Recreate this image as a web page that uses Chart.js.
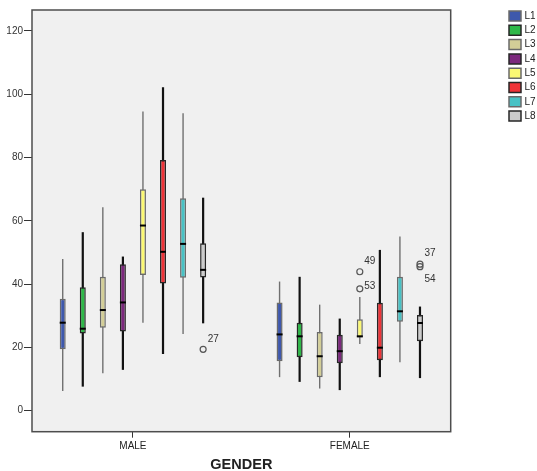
<!DOCTYPE html>
<html>
<head>
<meta charset="utf-8">
<script src="https://cdn.jsdelivr.net/npm/chart.js@4.4.1/dist/chart.umd.min.js"></script>
<style>
html,body{margin:0;padding:0;background:#fff}
#wrap{width:537px;height:471px;position:relative}
</style>
</head>
<body>
<div id="wrap"><canvas id="chart"></canvas></div>
<script>
// categories / series
const groups=['MALE','FEMALE'];
const series=['L1','L2','L3','L4','L5','L6','L7','L8'];

// box plot summaries, one pair per series: [MALE, FEMALE]
const whiskerLow =[[6.2,10.6],[7.6,9.1],[11.8,7.0],[12.9,6.5],[27.8,21.1],[17.9,10.6],[24.2,15.3],[27.6,10.3]];
const quart1     =[[19.4,15.6],[24.4,16.9],[26.2,10.6],[25.0,15.0],[42.9,23.1],[40.2,15.9],[42.0,28.1],[42.1,21.9]];
const medians    =[[27.8,24.1],[25.9,23.5],[31.8,17.2],[34.2,18.8],[58.5,23.5],[50.2,19.9],[52.7,31.4],[44.5,27.7]];
const quart3     =[[35.4,34.2],[39.0,27.8],[42.3,24.9],[46.3,24.0],[70.0,28.9],[79.2,34.1],[67.1,42.3],[52.9,30.2]];
const whiskerHigh=[[47.9,40.8],[56.4,42.3],[64.3,33.5],[48.7,29.1],[94.5,35.9],[102.2,50.8],[94.0,55.0],[67.3,32.9]];

// outliers (series index, group index, value, case number)
const outlierSeries=[7,4,4,7,7];
const outlierGroup =[0,1,1,1,1];
const outlierValue =[19.4,43.9,38.5,46.3,45.5];
const outlierCase  =['27','49','53','37','54'];

const yTicks=[0,20,40,60,80,100,120];

const fills=['#3e58ac','#2eb848','#d3ce97','#7c287d','#fbf873','#ef3338','#48c2c5','#cccccc'];
const FONT='Arial, "Liberation Sans", sans-serif';
Chart.defaults.font.family=FONT;

// whiskers, medians, outliers and the frame
const boxPlot={
  id:'boxPlot',
  beforeDraw(chart){
    const {ctx,chartArea:a}=chart;
    ctx.save();
    ctx.fillStyle='#f0f0f0';
    ctx.fillRect(a.left,a.top,a.right-a.left,a.bottom-a.top);
    ctx.restore();
  },
  beforeDatasetsDraw(chart){
    const {ctx}=chart,y=chart.scales.y;
    ctx.save();
    chart.data.datasets.forEach((ds,i)=>{
      chart.getDatasetMeta(i).data.forEach((bar,j)=>{
        ctx.strokeStyle=i%2?'#111':'#707070';
        ctx.lineWidth=i%2?2.2:1.4;
        ctx.beginPath();
        ctx.moveTo(bar.x,y.getPixelForValue(whiskerLow[i][j]));
        ctx.lineTo(bar.x,y.getPixelForValue(whiskerHigh[i][j]));
        ctx.stroke();
      });
    });
    ctx.restore();
  },
  afterDatasetsDraw(chart){
    const {ctx,chartArea:a}=chart,y=chart.scales.y;
    ctx.save();
    // medians
    ctx.strokeStyle='#000';ctx.lineWidth=2;
    chart.data.datasets.forEach((ds,i)=>{
      chart.getDatasetMeta(i).data.forEach((bar,j)=>{
        const py=y.getPixelForValue(medians[i][j]);
        ctx.beginPath();
        ctx.moveTo(bar.x-bar.width/2,py);
        ctx.lineTo(bar.x+bar.width/2,py);
        ctx.stroke();
      });
    });
    // outliers
    ctx.font='10px '+FONT;ctx.textAlign='left';ctx.textBaseline='middle';
    let prevKey=null,prevLabelY=0;
    outlierValue.forEach((v,k)=>{
      const bar=chart.getDatasetMeta(outlierSeries[k]).data[outlierGroup[k]];
      const cx=bar.x,cy=y.getPixelForValue(v);
      ctx.strokeStyle='#555';ctx.lineWidth=1.2;
      ctx.beginPath();ctx.arc(cx,cy,3,0,Math.PI*2);ctx.stroke();
      const key=outlierSeries[k]+'-'+outlierGroup[k];
      let ly=cy-10.5;
      if(key===prevKey)ly=Math.max(ly,prevLabelY+25.5);
      ctx.fillStyle='#333';
      ctx.fillText(outlierCase[k],cx+4.5,ly);
      prevKey=key;prevLabelY=ly;
    });
    // frame
    ctx.strokeStyle='#4d4d4d';ctx.lineWidth=1.5;
    ctx.strokeRect(a.left,a.top,a.right-a.left,a.bottom-a.top);
    ctx.restore();
  }
};

new Chart(document.getElementById('chart'),{
  type:'bar',
  data:{
    datasets:series.map((name,i)=>({
      label:name,
      data:groups.map((g,j)=>({x:j,y:[quart1[i][j],quart3[i][j]]})),
      backgroundColor:fills[i],
      borderColor:i%2?'#262626':'#6a6a6a',
      borderWidth:1.5,
      borderSkipped:false,
      categoryPercentage:0.74,
      barPercentage:0.3,
      xAxisID:'x',yAxisID:'y'
    }))
  },
  options:{
    responsive:true,maintainAspectRatio:false,animation:false,events:[],
    layout:{padding:{top:6.7,right:1.5,bottom:0,left:0}},
    plugins:{
      tooltip:{enabled:false},
      legend:{position:'right',align:'start',maxWidth:30.8,
        labels:{boxWidth:12,boxHeight:10,padding:4.3,color:'#222',font:{size:10},textAlign:'right'}}
    },
    scales:{
      x:{type:'linear',position:'bottom',min:-0.4654,max:1.4654,offset:false,
        afterBuildTicks:s=>{s.ticks=groups.map((g,j)=>({value:j}));},
        afterFit:s=>{s.height=39.3;},
        ticks:{callback:(v,k)=>groups[k],autoSkip:false,maxRotation:0,padding:3,color:'#222',font:{size:10}},
        grid:{display:true,drawOnChartArea:false,drawTicks:true,tickLength:6,color:'#333',offset:false},
        border:{display:false},
        title:{display:true,text:'GENDER',color:'#222',font:{size:14.5,weight:'bold',lineHeight:0.85},padding:{top:0,bottom:0}}
      },
      xTop:{type:'linear',position:'top',display:true,
        grid:{display:false},ticks:{display:false},border:{display:false},
        afterFit:s=>{s.height=3.3;}},
      y:{type:'linear',position:'left',min:-6.64,max:126.6,
        afterBuildTicks:s=>{s.ticks=yTicks.map(v=>({value:v}));},
        afterFit:s=>{s.width=32;},
        ticks:{padding:1,color:'#333',font:{size:10}},
        grid:{drawOnChartArea:false,tickLength:8,color:'#333'},
        border:{display:false}
      },
      pad:{type:'linear',position:'right',display:true,
        grid:{display:false},ticks:{display:false},border:{display:false},
        afterFit:s=>{s.width=54;}}
    }
  },
  plugins:[boxPlot]
});
</script>
</body>
</html>
